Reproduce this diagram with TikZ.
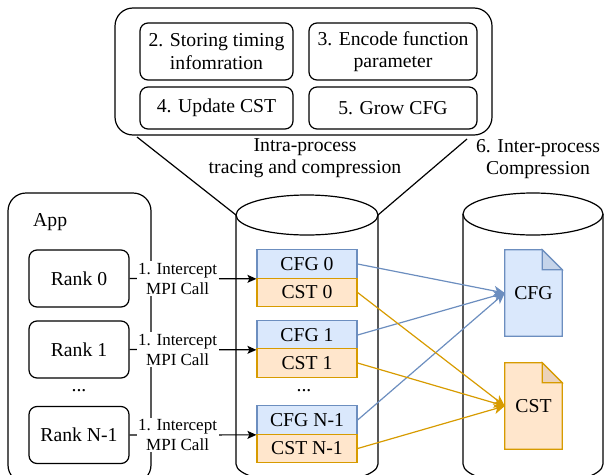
\documentclass[tikz,border=0pt]{standalone}
\usepackage{fontspec}
\setmainfont{Liberation Serif}
\usetikzlibrary{arrows.meta,backgrounds}
\definecolor{cfgfill}{HTML}{DAE8FC}
\definecolor{cfgline}{HTML}{6C8EBF}
\definecolor{cfgfold}{HTML}{C5D4EA}
\definecolor{cstfill}{HTML}{FFE6CC}
\definecolor{cstline}{HTML}{D79B00}
\definecolor{cstfold}{HTML}{EBD2B9}
\begin{document}
\begin{tikzpicture}[x=1pt,y=-1pt,
  every node/.style={font=\fontsize{19.7}{22.5}\selectfont, align=center, inner sep=0pt},
  outline/.style={draw=black, line width=1.2pt},
  container/.style={outline, rounded corners=18pt},
  stage/.style={outline, rounded corners=8pt},
  rankbox/.style={outline, rounded corners=8pt, minimum width=100pt, minimum height=57pt},
  cfgbox/.style={draw=cfgline, fill=cfgfill, line width=1.2pt, minimum width=100pt, minimum height=28.5pt},
  cstbox/.style={draw=cstline, fill=cstfill, line width=1.2pt, minimum width=100pt, minimum height=28.5pt},
  docnode/.style={minimum width=57pt, minimum height=86pt},
  ellipsis/.style={anchor=base, text height=3pt, text depth=0pt},
  callarrow/.style={line width=1.2pt, -{Stealth[length=9pt,width=8pt,inset=2pt]}},
  calllabel/.style={fill=white, font=\fontsize{17}{20}\selectfont, inner sep=1.5pt},
  cfgflow/.style={draw=cfgline, line width=1.2pt, -{Stealth[length=11pt,width=10pt,inset=3pt]}},
  cstflow/.style={draw=cstline, line width=1.2pt, -{Stealth[length=11pt,width=10pt,inset=3pt]}},
]
\useasboundingbox (0,0) rectangle (604,474);
\clip (0,0) rectangle (604,474);

% intra-process stages
\node[container, minimum width=377pt, minimum height=127pt] (proc) at (303.5,71.5) {};
\node[stage, minimum width=153pt, minimum height=57pt] (s2) at (216.5,51.5) {2. Storing timing\\infomration};
\node[stage, minimum width=168pt, minimum height=57pt] (s3) at (393,51.5) {3. Encode function\\parameter};
\node[stage, minimum width=153pt, minimum height=42pt] (s4) at (216.5,108) {4. Update CST};
\node[stage, minimum width=168pt, minimum height=42pt] (s5) at (393,108) {5. Grow CFG};
\node (intra) at (305,158) {Intra-process\\tracing and compression};
\node (inter) at (538,159) {6. Inter-process\\Compression};

% per-process store (left cylinder)
\coordinate (cylLtl) at (236,215);
\coordinate (cylLtr) at (378,215);
\draw[outline] (307,215) ellipse [x radius=71pt, y radius=20pt];
\draw[outline] (cylLtl) -- (236,464) arc[start angle=180, end angle=360, x radius=71pt, y radius=20pt] -- (cylLtr);

% global store (right cylinder)
\coordinate (cylRtl) at (463,214);
\coordinate (cylRtr) at (603,214);
\draw[outline] (533,214) ellipse [x radius=70pt, y radius=21pt];
\draw[outline] (cylRtl) -- (463,464) arc[start angle=180, end angle=360, x radius=70pt, y radius=21pt] -- (cylRtr);

% zoom lines from the stage box to the left cylinder
\coordinate (procbl) at (137,137);
\coordinate (procbr) at (467,139);
\draw[outline] (procbl) -- (cylLtl);
\draw[outline] (procbr) -- (cylLtr);

% application ranks
\node[container, minimum width=143pt, minimum height=290pt] (app) at (79.5,338) {};
\node[anchor=west] (applabel) at (33,222) {App};
\node[rankbox] (r0) at (79,278.5) {Rank 0};
\node[rankbox] (r1) at (79,349.5) {Rank 1};
\node[ellipsis] (rdots) at (79,391) {...};
\node[rankbox] (rn) at (79,435) {Rank N-1};

% per-rank CFG / CST
\node[cfgbox] (cfg0) at (307,264) {CFG 0};
\node[cstbox] (cst0) at (307,292.5) {CST 0};
\node[cfgbox] (cfg1) at (307,335) {CFG 1};
\node[cstbox] (cst1) at (307,363) {CST 1};
\node[ellipsis] (cdots) at (304,391) {...};
\node[cfgbox] (cfgn) at (307,420) {CFG N-1};
\node[cstbox] (cstn) at (307,448.5) {CST N-1};

% intercept arrows
\foreach \r/\c in {r0/cfg0, r1/cfg1, rn/cfgn}{
  \draw[callarrow] (\r.east) -- (\c.south west);
  \node[calllabel] (lbl-\r) at ([xshift=48pt]\r.east) {1. Intercept\\MPI Call};
}

% merged documents (dog-eared page)
\node[docnode] (cfgdoc) at (533.5,293) {CFG};
\node[docnode] (cstdoc) at (533.5,406) {CST};
\begin{scope}[on background layer]
  \foreach \d/\f/\l/\k in {cfgdoc/cfgfill/cfgline/cfgfold, cstdoc/cstfill/cstline/cstfold}{
    \draw[draw=\l, fill=\f, line width=1.2pt, line join=miter]
      (\d.north west) -- ([xshift=-20pt]\d.north east) -- ([yshift=-20pt]\d.north east)
      -- (\d.south east) -- (\d.south west) -- cycle;
    \draw[draw=\l, fill=\k, line width=1.2pt]
      ([xshift=-20pt]\d.north east) -- ([xshift=-20pt,yshift=-20pt]\d.north east)
      -- ([yshift=-20pt]\d.north east) -- cycle;
  }
\end{scope}

% inter-process merge
\draw[cfgflow] (cfg0.east) -- (cfgdoc.west);
\draw[cfgflow] (cfg1.east) -- (cfgdoc.west);
\draw[cfgflow] (cfgn.east) -- (cfgdoc.west);
\draw[cstflow] (cst0.east) -- (cstdoc.west);
\draw[cstflow] (cst1.east) -- (cstdoc.west);
\draw[cstflow] (cstn.east) -- (cstdoc.west);
\end{tikzpicture}
\end{document}
